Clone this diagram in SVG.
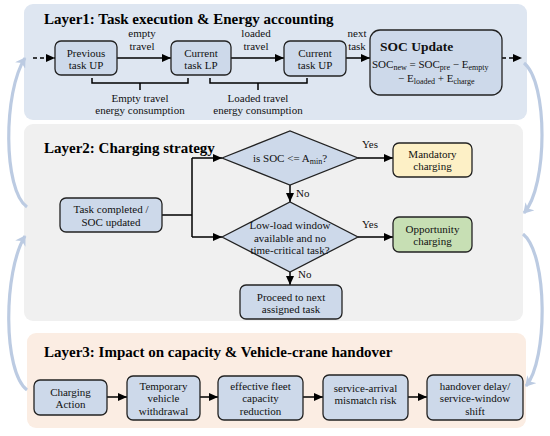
<svg xmlns="http://www.w3.org/2000/svg" width="550" height="436" viewBox="0 0 550 436">
<defs>
<marker id="ah" markerUnits="userSpaceOnUse" markerWidth="9" markerHeight="8" refX="9" refY="4" orient="auto"><path d="M0,0 L9,4 L0,8 z" fill="#000"/></marker>
<marker id="cv" markerUnits="userSpaceOnUse" markerWidth="12" markerHeight="12" refX="9" refY="6" orient="auto"><path d="M0,0 L10,6 L0,12 L3,6 z" fill="#bccbe2"/></marker>
<style>
.t{font-family:"Liberation Serif","Times New Roman",serif;font-size:11px;fill:#111;text-anchor:middle}
.ttl{font-family:"Liberation Serif","Times New Roman",serif;font-size:15px;font-weight:bold;fill:#000}
.box{fill:#cdd9ea;stroke:#222;stroke-width:1.3}
.ln{fill:none;stroke:#000;stroke-width:1.5}
.ar{fill:none;stroke:#000;stroke-width:1.5;marker-end:url(#ah)}
.da{fill:none;stroke:#000;stroke-width:1.5;stroke-dasharray:4,3;marker-end:url(#ah)}
.cv{fill:none;stroke:#bccbe2;stroke-width:3.2;marker-end:url(#cv)}
.sub{font-size:8px}
</style>
</defs>
<g id="panels">
<rect x="24" y="4" width="503" height="116" rx="9" fill="#dee6f1"/>
<rect x="24" y="124" width="499" height="197" rx="9" fill="#f0f0f0"/>
<rect x="27" y="333" width="499" height="95" rx="9" fill="#fbede3"/>
<text class="ttl" x="44" y="24">Layer1: Task execution &amp; Energy accounting</text>
<text class="ttl" x="44" y="153">Layer2: Charging strategy</text>
<text class="ttl" x="44" y="357">Layer3: Impact on capacity &amp; Vehicle-crane handover</text>
</g>
<g id="connectors">
<path class="da" d="M33,58 H55"/>
<path class="ar" d="M117,58 H171"/>
<path class="ar" d="M231,58 H284"/>
<path class="ar" d="M346,58 H370"/>
<path class="da" d="M502,58 H522"/>
<path class="ln" d="M92,78 V83 H188 V78 M140,83 V90"/>
<path class="ln" d="M210,78 V83 H307 V78 M258,83 V90"/>
<path class="ln" d="M162,215 H192 M192,158 V237"/>
<path class="ar" d="M192,158 H222"/>
<path class="ar" d="M192,237 H222"/>
<path class="ar" d="M358,158 H393"/>
<path class="ar" d="M290,185 V202"/>
<path class="ar" d="M358,237 H393"/>
<path class="ar" d="M290,272 V285"/>
<path class="ar" d="M107,397 H127"/>
<path class="ar" d="M200,397 H218"/>
<path class="ar" d="M303,397 H323"/>
<path class="ar" d="M408,397 H427"/>
<path class="cv" d="M27,207 C3,190 3,92 25,58"/>
<path class="cv" d="M27,390 C3,372 3,272 25,236"/>
<path class="cv" d="M524,63 C548,82 548,186 524,213"/>
<path class="cv" d="M523,234 C548,254 548,360 526,386"/>
<text class="t" x="142" y="37">empty</text>
<text class="t" x="142" y="50">travel</text>
<text class="t" x="256" y="37">loaded</text>
<text class="t" x="256" y="50">travel</text>
<text class="t" x="357" y="37">next</text>
<text class="t" x="357" y="50">task</text>
<text class="t" x="140" y="102">Empty travel</text>
<text class="t" x="140" y="114">energy consumption</text>
<text class="t" x="258" y="102">Loaded travel</text>
<text class="t" x="258" y="114">energy consumption</text>
<text class="t" x="370" y="148">Yes</text>
<text class="t" x="370" y="228">Yes</text>
<text class="t" x="296" y="197" style="text-anchor:start">No</text>
<text class="t" x="298" y="278" style="text-anchor:start">No</text>
</g>
<g id="prev"><rect class="box" x="55" y="41" width="62" height="34" rx="6"/><text class="t" x="86" y="57">Previous</text><text class="t" x="86" y="69">task UP</text></g>
<g id="curLP"><rect class="box" x="171" y="41" width="60" height="34" rx="6"/><text class="t" x="201" y="57">Current</text><text class="t" x="201" y="69">task LP</text></g>
<g id="curUP"><rect class="box" x="284" y="41" width="62" height="35" rx="6"/><text class="t" x="315" y="57">Current</text><text class="t" x="315" y="69">task UP</text></g>
<g id="soc"><rect class="box" x="370" y="30" width="132" height="65" rx="10"/>
<text class="t" x="380" y="51" style="text-anchor:start;font-weight:bold;font-size:13.5px">SOC Update</text>
<text class="t" x="372" y="68" style="text-anchor:start">SOC<tspan class="sub" dy="2">new</tspan><tspan dy="-2"> = SOC</tspan><tspan class="sub" dy="2">pre</tspan><tspan dy="-2"> −  E</tspan><tspan class="sub" dy="2">empty</tspan></text>
<text class="t" x="398" y="82" style="text-anchor:start">− E<tspan class="sub" dy="2">loaded</tspan><tspan dy="-2"> + E</tspan><tspan class="sub" dy="2">charge</tspan></text>
</g>
<g id="taskdone"><rect class="box" x="60" y="198" width="102" height="34" rx="6"/><text class="t" x="111" y="213">Task completed /</text><text class="t" x="111" y="226">SOC updated</text></g>
<g id="d1"><polygon class="box" points="222,158 290,131 358,158 290,185"/><text class="t" x="290" y="162">is  SOC &lt;= A<tspan class="sub" dy="2">min</tspan><tspan dy="-2">?</tspan></text></g>
<g id="d2"><polygon class="box" points="222,237 290,202 358,237 290,272"/><text class="t" x="290" y="229">Low-load window</text><text class="t" x="290" y="242">available and no</text><text class="t" x="290" y="254">time-critical task?</text></g>
<g id="mand"><rect x="393" y="143" width="79" height="34" rx="6" fill="#fdf0c6" stroke="#222" stroke-width="1.3"/><text class="t" x="432.5" y="158">Mandatory</text><text class="t" x="432.5" y="170">charging</text></g>
<g id="opp"><rect x="393" y="217" width="79" height="35" rx="6" fill="#c7dfb4" stroke="#222" stroke-width="1.3"/><text class="t" x="432.5" y="233">Opportunity</text><text class="t" x="432.5" y="245">charging</text></g>
<g id="proceed"><rect class="box" x="240" y="285" width="102" height="34" rx="6"/><text class="t" x="291" y="301">Proceed to next</text><text class="t" x="291" y="313">assigned task</text></g>
<g id="charge"><rect class="box" x="34" y="380" width="73" height="35" rx="6"/><text class="t" x="70.5" y="396">Charging</text><text class="t" x="70.5" y="408">Action</text></g>
<g id="withdraw"><rect class="box" x="127" y="376" width="73" height="44" rx="6"/><text class="t" x="163.5" y="390">Temporary</text><text class="t" x="163.5" y="402">vehicle</text><text class="t" x="163.5" y="415">withdrawal</text></g>
<g id="fleet"><rect class="box" x="218" y="376" width="85" height="44" rx="6"/><text class="t" x="260.5" y="390">effective fleet</text><text class="t" x="260.5" y="402">capacity</text><text class="t" x="260.5" y="415">reduction</text></g>
<g id="mismatch"><rect class="box" x="323" y="375" width="85" height="45" rx="6"/><text class="t" x="365.5" y="392">service-arrival</text><text class="t" x="365.5" y="404">mismatch risk</text></g>
<g id="handover"><rect class="box" x="427" y="375" width="96" height="45" rx="6"/><text class="t" x="475" y="390">handover delay/</text><text class="t" x="475" y="402">service-window</text><text class="t" x="475" y="415">shift</text></g>
</svg>
